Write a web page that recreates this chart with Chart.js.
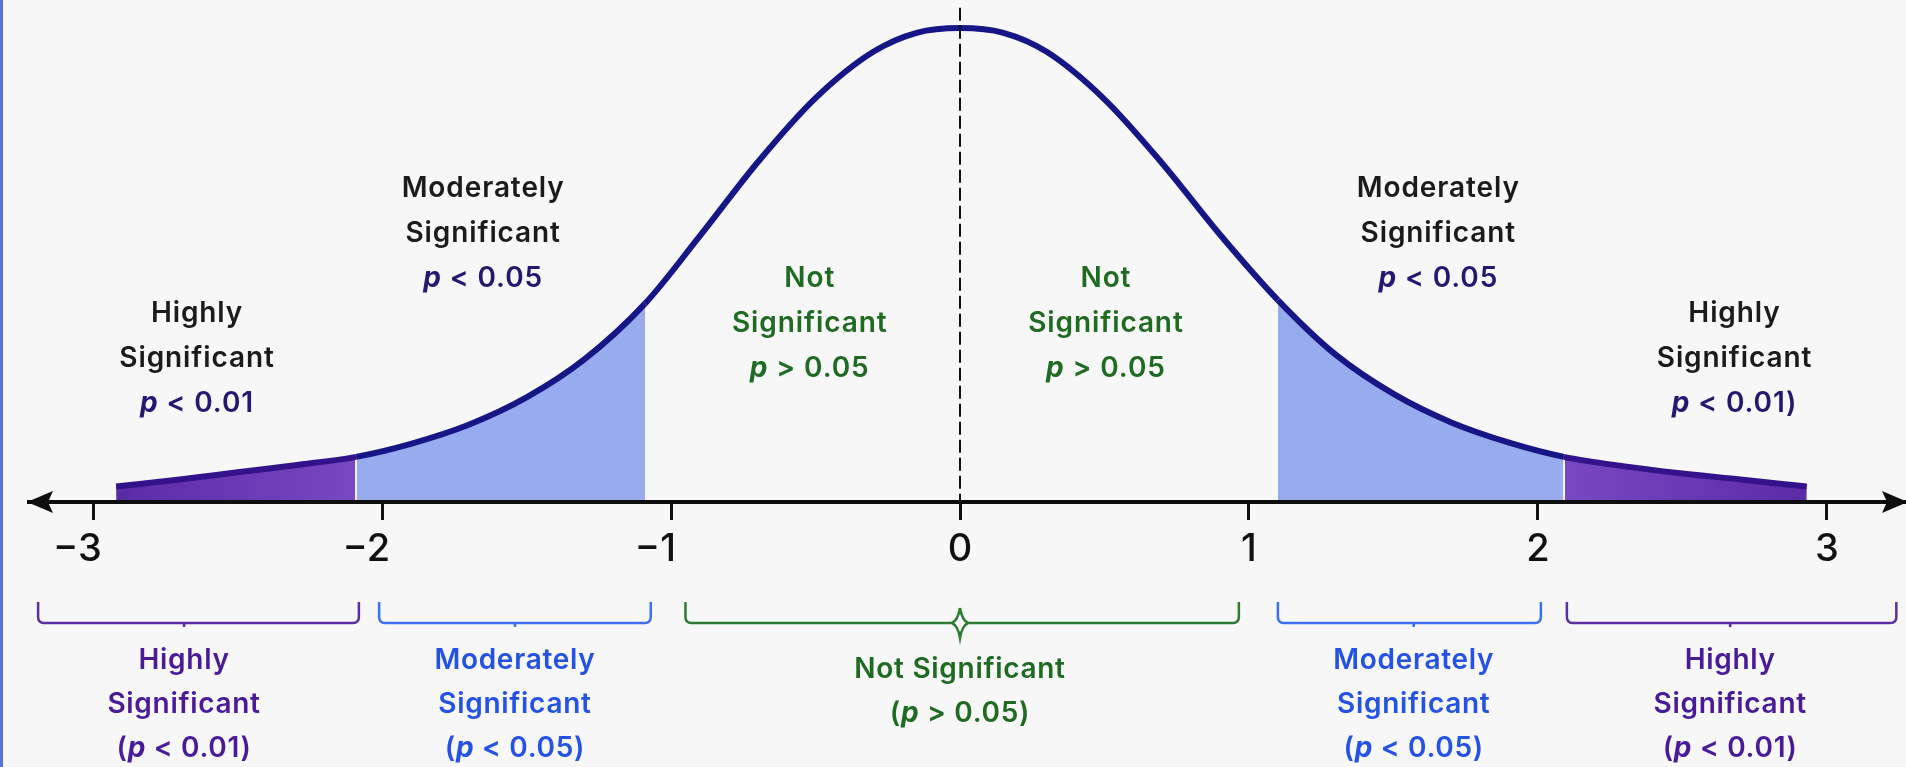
<!DOCTYPE html>
<html>
<head>
<meta charset="utf-8">
<title>Significance regions under the normal curve</title>
<script src="https://cdn.jsdelivr.net/npm/chart.js@4.4.1/dist/chart.umd.min.js"></script>
<style>
  html, body { margin: 0; padding: 0; background: #f7f7f7; }
  #wrap { position: relative; width: 1906px; height: 767px; }
</style>
</head>
<body>
<div id="wrap"><canvas id="curveChart"></canvas></div>
<script>
// curve: x in z units, y as density
const curveX = [-2.92, -2.7, -2.5, -2.3, -2.09, -1.9, -1.7, -1.5, -1.3, -1.09, -0.9, -0.7, -0.5, -0.3, -0.15, 0,
                0.15, 0.3, 0.5, 0.7, 0.9, 1.1, 1.3, 1.5, 1.7, 1.9, 2.09, 2.3, 2.5, 2.7, 2.93];
const curveY = [0.013, 0.019, 0.025, 0.031, 0.038, 0.049, 0.065, 0.088, 0.120, 0.167, 0.224, 0.286, 0.340, 0.379, 0.395, 0.399,
                0.395, 0.379, 0.339, 0.285, 0.225, 0.170, 0.124, 0.091, 0.067, 0.050, 0.038, 0.030, 0.024, 0.019, 0.013];

// where the shading changes (left tail | moderate | middle | moderate | right tail)
const cuts = [-2.09, -1.09, 1.1, 2.09];

const tickValues = [-3, -2, -1, 0, 1, 2, 3];
const tickLabels = ['−3', '−2', '−1', '0', '1', '2', '3'];

// labels above the curve
const topX = [-2.64, -1.65, -0.52, 0.505, 1.655, 2.68];
const topWords = [['Highly', 'Significant'], ['Moderately', 'Significant'], ['Not', 'Significant'],
                  ['Not', 'Significant'], ['Moderately', 'Significant'], ['Highly', 'Significant']];
const topP = ['p < 0.01', 'p < 0.05', 'p > 0.05', 'p > 0.05', 'p < 0.05', 'p < 0.01)'];

// brackets + labels under the axis
const bracketFrom = [-3.19, -2.01, -0.95, 1.1, 2.10];
const bracketTo = [-2.08, -1.07, 0.965, 2.01, 3.24];
const bracketMid = [-2.685, -1.54, 0, 1.57, 2.665];
const bottomText = [['Highly', 'Significant', '(p < 0.01)'], ['Moderately', 'Significant', '(p < 0.05)'],
                    ['Not Significant', '(p > 0.05)'], ['Moderately', 'Significant', '(p < 0.05)'],
                    ['Highly', 'Significant', '(p < 0.01)']];

const NAVY = '#161687', TAIL_LINE = '#34128c', MOD_FILL = '#98abee';
const INK = '#1b1b1b', P_INK = '#241870', GREEN = '#1f6b22';
const topColor = [INK, INK, GREEN, GREEN, INK, INK];
const topPColor = [P_INK, P_INK, GREEN, GREEN, P_INK, P_INK];
const bottomColor = ['#4a1b97', '#2352e4', GREEN, '#2352e4', '#4a1b97'];
const bracketColor = ['#5a2fa2', '#3d6ff2', '#2f7b32', '#3d6ff2', '#5a2fa2'];
const FONT = 'Inter';

Chart.defaults.font.family = FONT;

function region(ctx) {
  const mid = (ctx.p0.parsed.x + ctx.p1.parsed.x) / 2;
  if (mid < cuts[0] || mid > cuts[3]) return 'tail';
  if (mid < cuts[1] || mid > cuts[2]) return 'mod';
  return 'none';
}

// purple tails get darker toward the outer ends
let tailGrad = null;
function tailFill(chart) {
  if (!tailGrad) {
    const xs = chart.scales.x;
    const a = curveX[0], b = curveX[curveX.length - 1];
    tailGrad = chart.ctx.createLinearGradient(xs.getPixelForValue(a), 0, xs.getPixelForValue(b), 0);
    tailGrad.addColorStop(0, '#5b2aa5');
    tailGrad.addColorStop((cuts[0] - a) / (b - a), '#7848c1');
    tailGrad.addColorStop((cuts[3] - a) / (b - a), '#7848c1');
    tailGrad.addColorStop(1, '#5b2aa5');
  }
  return tailGrad;
}

// text line with an italic "p", centred on cx
function richLine(ctx, text, cx, baseline, font, color, spacing) {
  const parts = [];
  for (const ch of text) {
    const it = ch === 'p';
    const last = parts[parts.length - 1];
    if (last && last.it === it) last.t += ch; else parts.push({ t: ch, it });
  }
  const fontOf = it => it ? 'italic 700 ' + font : '600 ' + font;
  ctx.save();
  ctx.letterSpacing = spacing + 'px';
  let w = 0;
  parts.forEach(p => { ctx.font = fontOf(p.it); p.w = ctx.measureText(p.t).width; w += p.w; });
  let x = cx - w / 2;
  ctx.fillStyle = color;
  ctx.textAlign = 'left';
  ctx.textBaseline = 'alphabetic';
  parts.forEach(p => { ctx.font = fontOf(p.it); ctx.fillText(p.t, x, baseline); x += p.w; });
  ctx.restore();
}

function bracket(ctx, x1, x2, xm, top, bot, color, star) {
  const r = 6;
  ctx.save();
  ctx.strokeStyle = color;
  ctx.lineWidth = 2.5;
  ctx.beginPath();
  ctx.moveTo(x1, top);
  ctx.lineTo(x1, bot - r);
  ctx.quadraticCurveTo(x1, bot, x1 + r, bot);
  ctx.lineTo(x2 - r, bot);
  ctx.quadraticCurveTo(x2, bot, x2, bot - r);
  ctx.lineTo(x2, top);
  ctx.stroke();
  if (star) {
    ctx.beginPath();
    ctx.moveTo(xm, bot - 15);
    ctx.quadraticCurveTo(xm + 2, bot - 3, xm + 8, bot);
    ctx.quadraticCurveTo(xm + 2, bot + 3, xm, bot + 15);
    ctx.quadraticCurveTo(xm - 2, bot + 3, xm - 8, bot);
    ctx.quadraticCurveTo(xm - 2, bot - 3, xm, bot - 15);
    ctx.fillStyle = '#f7f7f7';
    ctx.fill();
    ctx.stroke();
  } else {
    ctx.beginPath();
    ctx.moveTo(xm, bot);
    ctx.lineTo(xm, bot + 4);
    ctx.stroke();
  }
  ctx.restore();
}

const decorations = {
  id: 'decorations',
  beforeDraw(chart) {
    const ctx = chart.ctx;
    ctx.save();
    ctx.fillStyle = '#f7f7f7';
    ctx.fillRect(0, 0, chart.width, chart.height);
    ctx.fillStyle = '#5a72d4';
    ctx.fillRect(0, 0, 3, chart.height);
    ctx.restore();
  },
  beforeDatasetDraw(chart) {
    // thin white gap where the purple tail meets the blue band
    const ctx = chart.ctx, xs = chart.scales.x, ys = chart.scales.y;
    const pts = chart.getDatasetMeta(0).data;
    ctx.save();
    ctx.strokeStyle = '#f3f4fa';
    ctx.lineWidth = 2;
    [cuts[0], cuts[3]].forEach(c => {
      const i = curveX.indexOf(c);
      const px = xs.getPixelForValue(c);
      ctx.beginPath();
      ctx.moveTo(px, ys.getPixelForValue(0));
      ctx.lineTo(px, pts[i].y + 2);
      ctx.stroke();
    });
    ctx.restore();
  },
  afterDraw(chart) {
    const ctx = chart.ctx, xs = chart.scales.x, ys = chart.scales.y;
    const axisY = ys.getPixelForValue(0);

    // dashed mean line
    ctx.save();
    ctx.strokeStyle = '#111';
    ctx.lineWidth = 2;
    ctx.setLineDash([13, 5]);
    ctx.beginPath();
    ctx.moveTo(xs.getPixelForValue(0), ys.getPixelForValue(0.416));
    ctx.lineTo(xs.getPixelForValue(0), axisY + 18);
    ctx.stroke();
    ctx.restore();

    // arrow heads on the axis
    ctx.save();
    ctx.fillStyle = '#0e0e0e';
    const left = chart.chartArea.left - 2, right = chart.width + 2;
    ctx.beginPath();
    ctx.moveTo(left, axisY);
    ctx.lineTo(left + 26, axisY - 11);
    ctx.lineTo(left + 21, axisY);
    ctx.lineTo(left + 26, axisY + 11);
    ctx.closePath();
    ctx.fill();
    ctx.beginPath();
    ctx.moveTo(right, axisY);
    ctx.lineTo(right - 26, axisY - 11);
    ctx.lineTo(right - 21, axisY);
    ctx.lineTo(right - 26, axisY + 11);
    ctx.closePath();
    ctx.fill();
    ctx.restore();

    // labels above the curve
    const topBase = [-180, -305, -215, -215, -305, -180];
    topX.forEach((x, i) => {
      const cx = xs.getPixelForValue(x);
      const b = axisY + topBase[i];
      richLine(ctx, topWords[i][0], cx, b, '28px ' + FONT, topColor[i], 0.9);
      richLine(ctx, topWords[i][1], cx, b + 45, '28px ' + FONT, topColor[i], 0.9);
      richLine(ctx, topP[i], cx, b + 90, '28px ' + FONT, topPColor[i], 0.9);
    });

    // brackets and their captions
    bracketFrom.forEach((x, i) => {
      bracket(ctx, xs.getPixelForValue(x), xs.getPixelForValue(bracketTo[i]), xs.getPixelForValue(bracketMid[i]),
              axisY + 100, axisY + 121, bracketColor[i], bracketMid[i] === 0);
      const lines = bottomText[i];
      const first = lines.length === 2 ? axisY + 176 : axisY + 167;
      lines.forEach((t, k) => {
        richLine(ctx, t, xs.getPixelForValue(bracketMid[i]), first + k * 44, '28px ' + FONT, bottomColor[i], 0.7);
      });
    });
  }
};

new Chart(document.getElementById('curveChart'), {
  type: 'line',
  data: {
    datasets: [{
      data: curveX.map((x, i) => ({ x: x, y: curveY[i] })),
      borderColor: NAVY,
      borderWidth: 6,
      pointRadius: 0,
      cubicInterpolationMode: 'monotone',
      fill: 'origin',
      backgroundColor: 'rgba(0,0,0,0)',
      segment: {
        backgroundColor: ctx => {
          const r = region(ctx);
          return r === 'tail' ? tailFill(ctx.chart) : r === 'mod' ? MOD_FILL : 'rgba(0,0,0,0)';
        },
        borderColor: ctx => region(ctx) === 'tail' ? TAIL_LINE : NAVY
      }
    }]
  },
  options: {
    responsive: true,
    maintainAspectRatio: false,
    animation: false,
    layout: { padding: { left: 29, right: 0, top: 0, bottom: 0 } },
    plugins: { legend: { display: false }, tooltip: { enabled: false } },
    scales: {
      x: {
        type: 'linear',
        min: -3.2215,
        max: 3.2734,
        position: { y: 0 },
        afterBuildTicks: scale => { scale.ticks = tickValues.map(v => ({ value: v })); },
        grid: { drawOnChartArea: false, drawTicks: true, tickLength: 16, tickWidth: 3, tickColor: '#111' },
        border: { display: true, color: '#0e0e0e', width: 4, z: 1 },
        ticks: {
          // trailing space keeps the digit (not the minus) over the tick, as in the original
          callback: v => tickLabels[tickValues.indexOf(v)] + (v < 0 ? '\u2007\u2009' : ''),
          color: '#111',
          font: { size: 38, weight: '500' },
          padding: 9,
          maxRotation: 0,
          autoSkip: false
        }
      },
      y: { display: false, min: -0.2231, max: 0.4226 }
    }
  },
  plugins: [decorations]
});
</script>
</body>
</html>
